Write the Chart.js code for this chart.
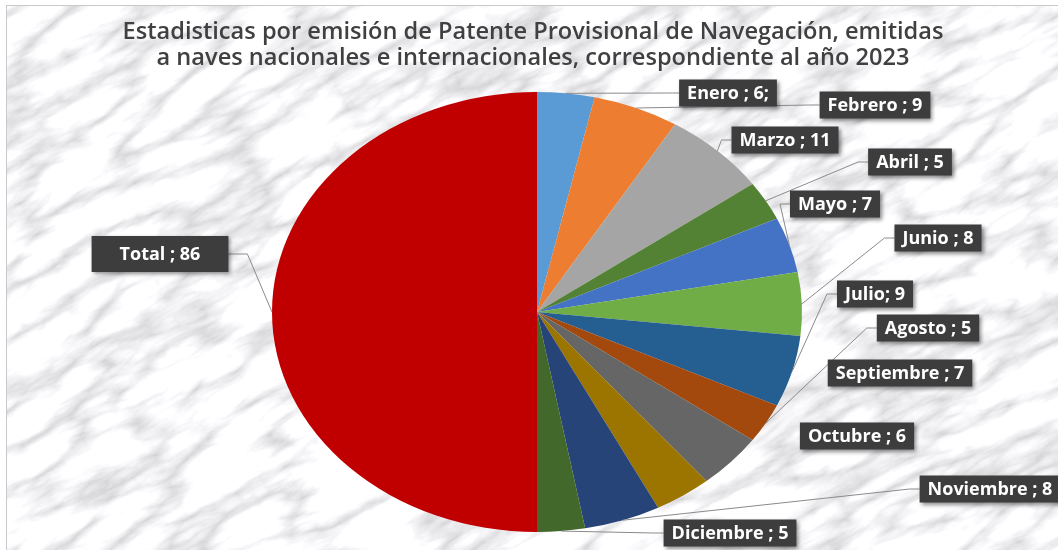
<!DOCTYPE html>
<html>
<head>
<meta charset="utf-8">
<script src="https://cdn.jsdelivr.net/npm/chart.js@4/dist/chart.umd.min.js"></script>
<style>
  html, body { margin: 0; padding: 0; background: #ffffff; }
  #wrap { position: relative; width: 1058px; height: 550px; overflow: hidden; }
  #marble { position: absolute; left: 6px; top: 5px; width: 1060px; height: 550px;
    border-left: 1px solid #c9c9cb; border-top: 1px solid #c9c9cb; }
  canvas { position: absolute; left: 0; top: 0; }
</style>
</head>
<body>
<div id="wrap">
  <svg id="marble" width="1060" height="550" xmlns="http://www.w3.org/2000/svg">
    <filter id="veins" x="0" y="0" width="100%" height="100%">
      <feTurbulence type="turbulence" baseFrequency="0.009 0.028" numOctaves="5" seed="11" result="n"/>
      <feColorMatrix type="matrix" in="n"
        values="0.95 0 0 0 0.63
                0.95 0 0 0 0.63
                0.95 0 0 0 0.65
                0 0 0 0 1"/>
    </filter>
    <g transform="rotate(-28 530 275)">
      <rect x="-400" y="-500" width="1900" height="1600" filter="url(#veins)"/>
    </g>
  </svg>
  <canvas id="chart" width="1058" height="550"></canvas>
</div>
<script>
const categories = ['Enero', 'Febrero', 'Marzo', 'Abril', 'Mayo', 'Junio', 'Julio', 'Agosto',
  'Septiembre', 'Octubre', 'Noviembre', 'Diciembre', 'Total'];
const values = [6, 9, 11, 5, 7, 8, 9, 5, 7, 6, 8, 5, 86];
const dataLabels = ['Enero ; 6;', 'Febrero ; 9', 'Marzo ; 11', 'Abril ; 5', 'Mayo ; 7', 'Junio ; 8',
  'Julio; 9', 'Agosto ; 5', 'Septiembre ; 7', 'Octubre ; 6', 'Noviembre ; 8', 'Diciembre ; 5', 'Total ; 86'];
const colors = ['#5B9BD5', '#ED7D31', '#A5A5A5', '#548235', '#4472C4', '#70AD47', '#255E91',
  '#A3490E', '#666666', '#9C7400', '#264478', '#43682B', '#C00000'];
const titleLines = ['Estadisticas por emisión de Patente Provisional de Navegación, emitidas',
  'a naves nacionales e internacionales, correspondiente al año 2023'];

// label box centres (layout) and whether a leader line is drawn
const labelPos = [[728, 93], [875, 105], [785, 140], [910, 162], [835, 204], [938, 238],
  [875, 294], [928, 328], [900, 373], [857, 436], [990, 489], [730, 533], [160, 254]];
const leader = [true, true, true, true, true, true, true, true, false, false, true, true, true];

const SX = 265 / 220; // pie is drawn as an ellipse
const LABEL_FONT = 'bold 18px "Open Sans"';

const ellipsePlugin = {
  id: 'ellipse',
  beforeDatasetsDraw(chart) {
    const a = chart.getDatasetMeta(0).data[0];
    const ctx = chart.ctx;
    ctx.save();
    ctx.translate(a.x, a.y);
    ctx.scale(SX, 1);
    ctx.translate(-a.x, -a.y);
  },
  afterDatasetsDraw(chart) {
    chart.ctx.restore();
  }
};

const titlePlugin = {
  id: 'wideTitle',
  afterDraw(chart) {
    const ctx = chart.ctx;
    ctx.save();
    ctx.font = '600 20px "Open Sans"';
    const size = 20 * 822 / ctx.measureText(titleLines[0]).width;
    ctx.font = '600 ' + size.toFixed(1) + 'px "Open Sans"';
    ctx.fillStyle = '#404040';
    ctx.textAlign = 'center';
    ctx.textBaseline = 'alphabetic';
    ctx.fillText(titleLines[0], 533, 39);
    ctx.fillText(titleLines[1], 533, 65);
    ctx.restore();
  }
};

const labelPlugin = {
  id: 'boxLabels',
  afterDraw(chart) {
    const ctx = chart.ctx;
    const arcs = chart.getDatasetMeta(0).data;
    ctx.save();
    ctx.font = LABEL_FONT;
    const boxes = arcs.map((a, i) => {
      const w = ctx.measureText(dataLabels[i]).width + (i === 12 ? 56 : 16);
      const h = i === 12 ? 36 : 27;
      const [cx, cy] = labelPos[i];
      return { l: cx - w / 2, r: cx + w / 2, t: cy - h / 2, b: cy + h / 2, cx, cy, w, h };
    });
    // leader lines
    ctx.strokeStyle = '#8a8a8a';
    ctx.lineWidth = 1;
    arcs.forEach((a, i) => {
      if (!leader[i]) return;
      const mid = (a.startAngle + a.endAngle) / 2;
      const px = a.x + SX * a.outerRadius * Math.cos(mid);
      const py = a.y + a.outerRadius * Math.sin(mid);
      const b = boxes[i];
      let tx, ex;
      if (px < b.l) { tx = b.l; ex = b.l - (i === 12 ? 19 : 10); }
      else { tx = b.r; ex = b.r + (i === 12 ? 19 : 10); }
      ctx.beginPath();
      ctx.moveTo(px, py);
      ctx.lineTo(ex, b.cy);
      ctx.lineTo(tx, b.cy);
      ctx.stroke();
    });
    // boxes
    boxes.forEach((b, i) => {
      ctx.save();
      ctx.shadowColor = 'rgba(0,0,0,0.45)';
      ctx.shadowBlur = 4;
      ctx.shadowOffsetX = 2;
      ctx.shadowOffsetY = 2;
      ctx.fillStyle = '#3d3d3d';
      ctx.fillRect(b.l, b.t, b.w, b.h);
      ctx.restore();
      ctx.fillStyle = '#ffffff';
      ctx.textAlign = 'center';
      ctx.textBaseline = 'middle';
      ctx.fillText(dataLabels[i], b.cx, b.cy + 1);
    });
    ctx.restore();
  }
};

new Chart(document.getElementById('chart'), {
  type: 'pie',
  data: {
    labels: categories,
    datasets: [{
      data: values,
      backgroundColor: colors,
      borderWidth: 0
    }]
  },
  options: {
    responsive: false,
    animation: false,
    layout: { padding: { top: 92, bottom: 18, left: 287, right: 271 } },
    plugins: {
      legend: { display: false },
      tooltip: { enabled: false },
      title: { display: false }
    }
  },
  plugins: [ellipsePlugin, titlePlugin, labelPlugin]
});
</script>
</body>
</html>
